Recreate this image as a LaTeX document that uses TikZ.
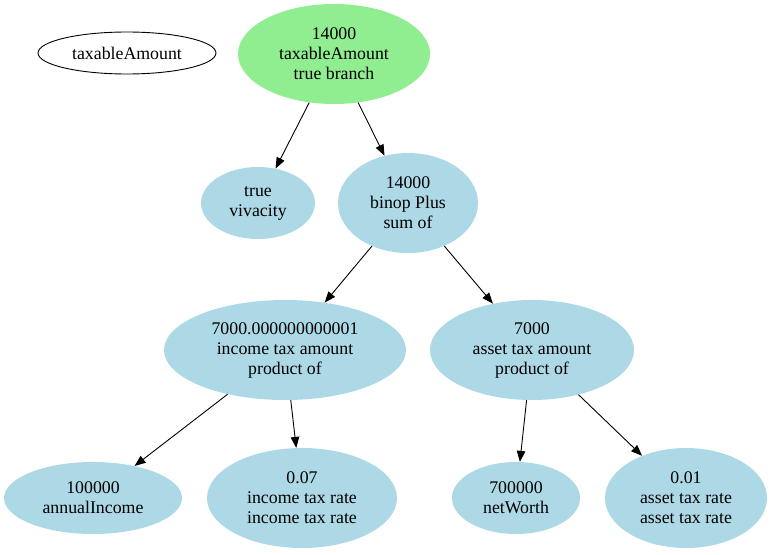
\documentclass[tikz,border=0pt]{standalone}
\usepackage{fontspec}
\setmainfont{Liberation Serif}
\usetikzlibrary{shapes.geometric,arrows.meta}
\definecolor{lblue}{HTML}{ADD8E6}
\definecolor{lgreen}{HTML}{90EE90}
\tikzset{
  nd/.style={ellipse, inner xsep=-6pt, inner ysep=-4pt, align=center,
    font=\fontsize{17.8}{20}\selectfont},
  blue/.style={nd, fill=lblue, draw=none},
  edge/.style={-{Triangle[length=11pt,width=8.5pt]}, line width=0.9pt}
}
\begin{document}
\begin{tikzpicture}[x=1pt,y=-1pt]
\useasboundingbox (0,0) rectangle (775,554);
\node[nd, draw=black, line width=0.9pt, fill=white, minimum width=178pt, minimum height=42pt] (lab) at (127,53) {taxableAmount};
\node[nd, fill=lgreen, minimum width=192pt, minimum height=100pt] (root) at (334,54) {14000\\taxableAmount\\true branch};
\node[blue, minimum width=114pt, minimum height=72pt] (tv) at (258,203) {true\\vivacity};
\node[blue, minimum width=140pt, minimum height=100pt] (plus) at (408,203) {14000\\binop Plus\\sum of};
\node[blue, minimum width=242pt, minimum height=100pt] (ita) at (285,350) {7000.000000000001\\income tax amount\\product of};
\node[blue, minimum width=204pt, minimum height=100pt] (ata) at (532,350) {7000\\asset tax amount\\product of};
\node[blue, minimum width=178pt, minimum height=72pt] (ai) at (93,498) {100000\\annualIncome};
\node[blue, minimum width=190pt, minimum height=100pt] (itr) at (302,498) {0.07\\income tax rate\\income tax rate};
\node[blue, minimum width=128pt, minimum height=72pt] (nw) at (516,498) {700000\\netWorth};
\node[blue, minimum width=162pt, minimum height=100pt] (atr) at (686,498) {0.01\\asset tax rate\\asset tax rate};
\draw[edge] (root) -- (tv);
\draw[edge] (root) -- (plus);
\draw[edge] (plus) -- (ita);
\draw[edge] (plus) -- (ata);
\draw[edge] (ita) -- (ai);
\draw[edge] (ita) -- (itr);
\draw[edge] (ata) -- (nw);
\draw[edge] (ata) -- (atr);
\end{tikzpicture}
\end{document}
